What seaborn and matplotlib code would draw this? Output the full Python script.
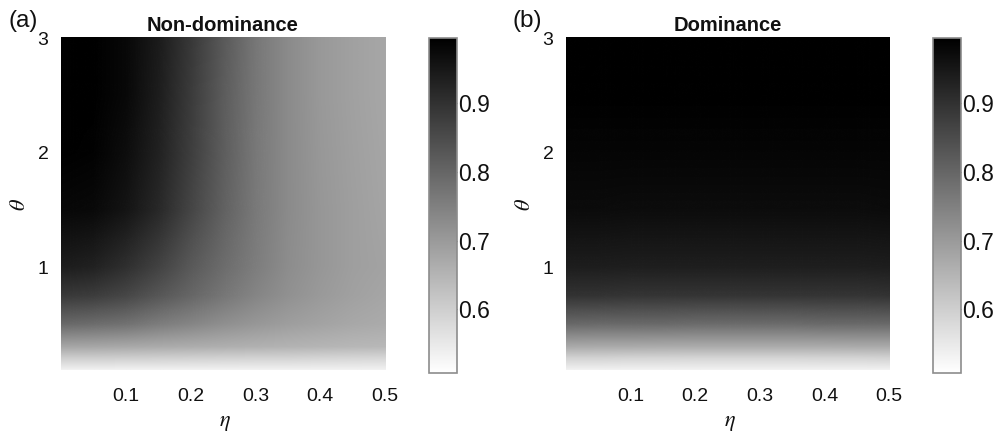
import numpy as np
import matplotlib
matplotlib.use("Agg")
import matplotlib.pyplot as plt
from matplotlib.image import NonUniformImage
from matplotlib.colors import Normalize
import seaborn as sns

# ---------------- data ----------------
eta = [0.0, 0.05, 0.10, 0.15, 0.20, 0.25, 0.30, 0.35, 0.40, 0.45, 0.50]
theta = [0.1, 0.2, 0.3, 0.5, 0.75, 1.0, 1.5, 2.0, 2.5, 3.0]

nondom_t01 = [0.534, 0.534, 0.534, 0.534, 0.534, 0.534, 0.534, 0.534, 0.534, 0.534, 0.534]
nondom_t02 = [0.601, 0.601, 0.599, 0.597, 0.595, 0.593, 0.591, 0.590, 0.588, 0.586, 0.584]
nondom_t03 = [0.678, 0.676, 0.672, 0.668, 0.664, 0.661, 0.657, 0.653, 0.649, 0.645, 0.643]
nondom_t05 = [0.795, 0.789, 0.776, 0.758, 0.740, 0.722, 0.707, 0.693, 0.682, 0.674, 0.668]
nondom_t075 = [0.888, 0.879, 0.860, 0.831, 0.799, 0.769, 0.741, 0.718, 0.701, 0.688, 0.678]
nondom_t10 = [0.940, 0.930, 0.905, 0.866, 0.825, 0.788, 0.755, 0.726, 0.707, 0.691, 0.682]
nondom_t15 = [0.980, 0.975, 0.955, 0.915, 0.862, 0.809, 0.764, 0.730, 0.707, 0.691, 0.680]
nondom_t20 = [0.993, 0.988, 0.970, 0.930, 0.876, 0.816, 0.766, 0.730, 0.705, 0.689, 0.678]
nondom_t25 = [0.995, 0.992, 0.976, 0.938, 0.882, 0.819, 0.768, 0.730, 0.703, 0.688, 0.676]
nondom_t30 = [0.995, 0.993, 0.978, 0.942, 0.886, 0.822, 0.768, 0.730, 0.703, 0.688, 0.676]

dom_t01 = [0.534, 0.534, 0.534, 0.534, 0.534, 0.534, 0.534, 0.534, 0.534, 0.534, 0.534]
dom_t02 = [0.590, 0.589, 0.588, 0.588, 0.587, 0.587, 0.587, 0.587, 0.588, 0.588, 0.589]
dom_t03 = [0.670, 0.669, 0.668, 0.667, 0.667, 0.666, 0.666, 0.667, 0.667, 0.668, 0.669]
dom_t05 = [0.795, 0.794, 0.793, 0.792, 0.791, 0.791, 0.791, 0.791, 0.792, 0.793, 0.794]
dom_t075 = [0.897, 0.896, 0.895, 0.895, 0.894, 0.894, 0.894, 0.894, 0.895, 0.895, 0.896]
dom_t10 = [0.938, 0.938, 0.937, 0.937, 0.937, 0.937, 0.937, 0.937, 0.937, 0.937, 0.938]
dom_t15 = [0.973, 0.973, 0.972, 0.972, 0.972, 0.972, 0.972, 0.972, 0.972, 0.972, 0.973]
dom_t20 = [0.985, 0.985, 0.985, 0.985, 0.985, 0.985, 0.985, 0.985, 0.985, 0.985, 0.985]
dom_t25 = [0.993, 0.993, 0.993, 0.993, 0.993, 0.993, 0.993, 0.993, 0.993, 0.993, 0.993]
dom_t30 = [0.995, 0.995, 0.995, 0.995, 0.995, 0.995, 0.995, 0.995, 0.995, 0.995, 0.995]

nondom = np.array([nondom_t01, nondom_t02, nondom_t03, nondom_t05, nondom_t075,
                   nondom_t10, nondom_t15, nondom_t20, nondom_t25, nondom_t30])
dom = np.array([dom_t01, dom_t02, dom_t03, dom_t05, dom_t075,
                dom_t10, dom_t15, dom_t20, dom_t25, dom_t30])

titles = ["Non-dominance", "Dominance"]
panel_tags = ["(a)", "(b)"]
xticks = [0.1, 0.2, 0.3, 0.4, 0.5]
yticks = [1, 2, 3]
cbar_ticks = [0.6, 0.7, 0.8, 0.9]
vmin, vmax = 0.507, 0.995

# ---------------- style ----------------
sns.set_theme(style="white")
plt.rcParams['font.family'] = ['Liberation Sans', 'DejaVu Sans']
plt.rcParams['mathtext.fontset'] = 'stix'
cmap = sns.color_palette("gray_r", as_cmap=True)
norm = Normalize(vmin=vmin, vmax=vmax)

fig = plt.figure(figsize=(10, 4.38), dpi=100)

ax_rects = [[0.061, 0.155, 0.324, 0.758], [0.566, 0.155, 0.323, 0.758]]
cb_rects = [[0.429, 0.148, 0.028, 0.765], [0.933, 0.148, 0.028, 0.765]]
tag_x = [0.008, 0.513]
text_c = '#111111'

for i, Z in enumerate([nondom, dom]):
    ax = fig.add_axes(ax_rects[i])
    im = NonUniformImage(ax, interpolation='bilinear', cmap=cmap, norm=norm,
                         extent=(eta[0], eta[-1], theta[0], theta[-1]))
    im.set_data(np.array(eta), np.array(theta), Z)
    ax.add_image(im)
    ax.set_xlim(0, 0.5)
    ax.set_ylim(0.1, 3)
    ax.set_xticks(xticks)
    ax.set_xticklabels([f"{t:.1f}" for t in xticks])
    ax.set_yticks(yticks)
    ax.set_yticklabels([str(t) for t in yticks])
    ax.tick_params(axis='both', length=0, labelsize=14, colors=text_c)
    ax.tick_params(axis='x', pad=13)
    ax.tick_params(axis='y', pad=9)
    for s in ax.spines.values():
        s.set_visible(False)
    ax.set_title(titles[i], fontsize=14.5, fontweight='bold', pad=5, color=text_c)
    ax.set_xlabel(r"$\eta$", fontsize=16, color=text_c)
    ax.set_ylabel(r"$\theta$", fontsize=16, color=text_c)
    ax.xaxis.set_label_coords(0.506, -0.125)
    ax.yaxis.set_label_coords(-0.095, 0.5)
    fig.text(tag_x[i], 0.952, panel_tags[i], fontsize=17.5, va='center', ha='left',
             color=text_c)

    cax = fig.add_axes(cb_rects[i])
    cb = fig.colorbar(im, cax=cax, ticks=cbar_ticks)
    cb.outline.set_edgecolor('#8c8c8c')
    cb.outline.set_linewidth(1.2)
    cb.ax.tick_params(direction='in', length=3, width=0.8, color='#444444',
                      labelsize=16.5, pad=1, labelcolor=text_c)
    cb.ax.set_yticklabels([f"{t:.1f}" for t in cbar_ticks])

fig.savefig("out.png", dpi=100)
